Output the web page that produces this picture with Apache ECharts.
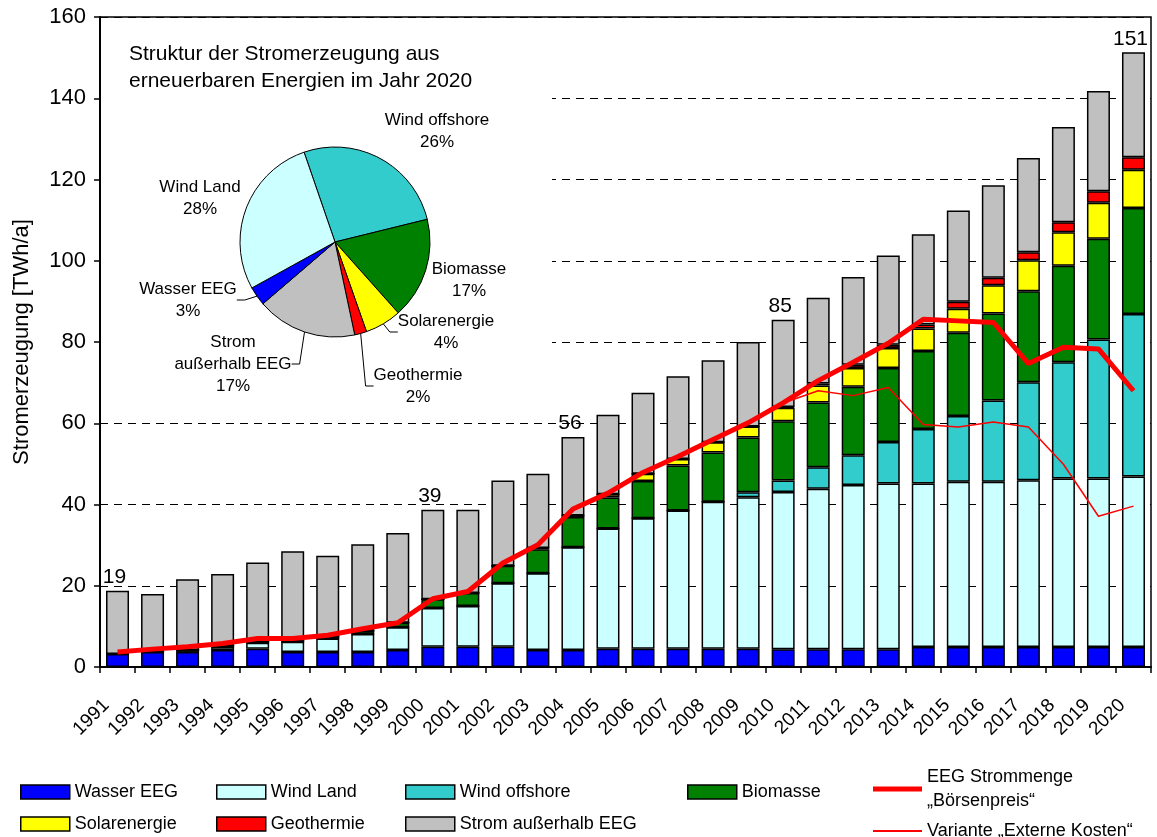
<!DOCTYPE html>
<html>
<head>
<meta charset="utf-8">
<title>Stromerzeugung aus erneuerbaren Energien</title>
<script src="https://cdn.jsdelivr.net/npm/echarts@6/dist/echarts.min.js"></script>
<style>
  html, body { margin: 0; padding: 0; background: #fff; }
  #chart { width: 1157px; height: 837px; }
</style>
</head>
<body>
<div id="chart"></div>
<script>
  // Jahre
  var years = ['1991', '1992', '1993', '1994', '1995', '1996', '1997', '1998', '1999', '2000',
    '2001', '2002', '2003', '2004', '2005', '2006', '2007', '2008', '2009', '2010',
    '2011', '2012', '2013', '2014', '2015', '2016', '2017', '2018', '2019', '2020']

  // Stromerzeugung in TWh/a
  var wasserEEG = [3.2, 3.7, 3.7, 4.2, 4.5, 3.7, 3.7, 3.7, 4.2, 5.0,
    5.0, 5.0, 4.2, 4.2, 4.5, 4.5, 4.5, 4.5, 4.5, 4.4,
    4.4, 4.4, 4.4, 4.9, 4.9, 4.9, 4.9, 4.9, 4.9, 4.9]
  var windLand = [0, 0.1, 0.5, 0.8, 1.5, 2.5, 3.3, 4.4, 5.6, 9.5,
    10.0, 15.6, 18.9, 25.3, 29.6, 32.1, 34.0, 36.2, 37.3, 38.7,
    39.5, 40.4, 40.8, 40.3, 40.7, 40.7, 41.1, 41.5, 41.5, 42.0]
  var windOffshore = [0, 0, 0, 0, 0, 0, 0, 0, 0, 0,
    0, 0, 0, 0, 0, 0, 0, 0, 1.2, 2.8,
    5.3, 7.3, 10.2, 13.4, 16.2, 20.0, 24.1, 28.6, 34.2, 40.0]
  var biomasse = [0, 0, 0, 0.3, 0.3, 0.3, 0.5, 0.8, 1.1, 2.2,
    3.2, 4.3, 5.9, 7.4, 7.6, 9.2, 11.1, 12.1, 13.5, 14.6,
    15.9, 16.9, 18.2, 19.2, 20.5, 21.4, 22.4, 23.8, 24.8, 26.1]
  var solar = [0, 0, 0, 0, 0, 0, 0, 0, 0, 0,
    0, 0, 0.3, 0.4, 0.8, 1.8, 1.6, 2.5, 2.7, 3.3,
    4.2, 4.6, 4.9, 5.5, 5.9, 7.0, 7.6, 8.2, 8.9, 9.4]
  var geothermie = [0, 0, 0, 0, 0, 0, 0, 0, 0, 0,
    0, 0, 0, 0, 0, 0, 0, 0, 0, 0.2,
    0.5, 0.8, 0.8, 1.0, 1.7, 1.8, 2.0, 2.5, 2.8, 3.1]
  var ausserhalbEEG = [15.6, 14.2, 17.4, 17.6, 19.4, 22.0, 19.9, 21.3, 22.1, 22.0,
    20.5, 21.0, 18.3, 19.3, 19.6, 19.9, 20.4, 20.2, 20.8, 21.5,
    21.1, 21.6, 22.0, 22.2, 22.5, 22.8, 23.2, 23.4, 24.7, 25.8]

  // Linien
  var eegBoersenpreis = [3.7, 4.4, 5.0, 5.8, 7.0, 7.0, 7.8, 9.4, 10.9, 16.8,
    18.6, 25.6, 30.1, 38.9, 42.8, 47.9, 51.8, 56.0, 60.1, 65.0,
    70.5, 75.0, 79.7, 85.6, 85.2, 84.8, 74.7, 78.7, 78.3, 68.0]
  var varianteExterne = ['-', '-', '-', '-', '-', '-', '-', '-', '-', '-',
    '-', '-', '-', '-', '-', '-', '-', '-', '-', 65.0,
    68.0, 66.8, 68.8, 59.7, 59.1, 60.3, 59.1, 49.9, 37.1, 39.6]

  // Summen-Beschriftung
  var labelYears = ['1991', '2000', '2004', '2010', '2020']
  var labelTexts = ['19', '39', '56', '85', '151']

  // Kuchen 2020
  var pieNames = ['Wind offshore', 'Biomasse', 'Solarenergie', 'Geothermie', 'Strom außerhalb EEG', 'Wasser EEG', 'Wind Land']
  var pieLabelNames = ['Wind offshore', 'Biomasse', 'Solarenergie', 'Geothermie', 'Strom\naußerhalb EEG', 'Wasser EEG', 'Wind Land']
  var pieShares = ['26%', '17%', '4%', '2%', '17%', '3%', '28%']

  var names = {
    wasser: 'Wasser EEG',
    land: 'Wind Land',
    offshore: 'Wind offshore',
    bio: 'Biomasse',
    solar: 'Solarenergie',
    geo: 'Geothermie',
    grau: 'Strom außerhalb EEG',
    eeg: 'EEG Strommenge „Börsenpreis“',
    variante: 'Variante „Externe Kosten“'
  }
  var colors = {
    wasser: '#0000ff',
    land: '#ccffff',
    offshore: '#33cccc',
    bio: '#008000',
    solar: '#ffff00',
    geo: '#ff0000',
    grau: '#c0c0c0'
  }

  var font = '"Liberation Sans", Arial, sans-serif'
  var last = years.length - 1

  function barSeries(key, data) {
    return {
      name: names[key],
      type: 'bar',
      stack: 'summe',
      barWidth: 23,
      data: data,
      itemStyle: {
        color: colors[key],
        borderColor: '#000',
        borderWidth: 1.5
      },
      emphasis: { disabled: true }
    }
  }

  var series = [
    barSeries('wasser', wasserEEG),
    barSeries('land', windLand),
    barSeries('offshore', windOffshore),
    barSeries('bio', biomasse),
    barSeries('solar', solar),
    barSeries('geo', geothermie),
    barSeries('grau', ausserhalbEEG)
  ]
  // Summen oben auf dem grauen Balken
  series[6].label = {
    show: true,
    position: 'top',
    distance: 3,
    offset: [-3, 0],
    fontFamily: font,
    fontSize: 21,
    color: '#000',
    formatter: function (p) {
      var i = labelYears.indexOf(p.name)
      return i >= 0 ? labelTexts[i] : ''
    }
  }

  series.push({
    name: names.eeg,
    type: 'line',
    data: eegBoersenpreis,
    symbol: 'none',
    z: 5,
    lineStyle: { color: '#ff0000', width: 5 },
    itemStyle: { color: '#ff0000' }
  })
  series.push({
    name: names.variante,
    type: 'line',
    data: varianteExterne,
    symbol: 'none',
    z: 5,
    lineStyle: { color: '#ff0000', width: 1.5 },
    itemStyle: { color: '#ff0000' }
  })

  // Kuchen aus den Werten 2020
  var pieSource = [windOffshore, biomasse, solar, geothermie, ausserhalbEEG, wasserEEG, windLand]
  var pieColorKeys = ['offshore', 'bio', 'solar', 'geo', 'grau', 'wasser', 'land']
  var pieLabelSpots = [[437, 131], [469, 280], [446, 332], [418, 386], [233, 364], [188, 300], [200, 198]]
  var pieWithLine = [false, false, true, true, true, true, false]

  var pieData = []
  for (var i = 0; i < pieNames.length; i++) {
    pieData.push({
      name: pieNames[i],
      value: pieSource[i][last],
      itemStyle: { color: colors[pieColorKeys[i]] },
      labelLine: { show: pieWithLine[i] }
    })
  }

  series.push({
    type: 'pie',
    center: [335, 242],
    radius: 95,
    startAngle: 109,
    clockwise: true,
    avoidLabelOverlap: false,
    z: 6,
    silent: true,
    itemStyle: { borderColor: '#000', borderWidth: 1 },
    label: {
      show: true,
      position: 'outside',
      fontFamily: font,
      fontSize: 17,
      lineHeight: 22,
      color: '#000',
      align: 'center',
      formatter: function (p) {
        return pieLabelNames[p.dataIndex] + '\n' + pieShares[p.dataIndex]
      }
    },
    labelLine: { lineStyle: { color: '#000', width: 1 }, length: 8, length2: 8 },
    labelLayout: function (p) {
      var s = pieLabelSpots[p.dataIndex]
      return { x: s[0], y: s[1], align: 'center', verticalAlign: 'middle' }
    },
    data: pieData
  })

  // Legende: jeder Eintrag einzeln platziert
  // [schluessel, links, oben, symbolhoehe, rahmen]
  var legendSpots = [
    ['wasser', 20, 780, 14, 1.5], ['land', 216, 780, 14, 1.5], ['offshore', 405, 780, 14, 1.5], ['bio', 687, 780, 14, 1.5],
    ['solar', 20, 812, 14, 1.5], ['geo', 216, 812, 14, 1.5], ['grau', 405, 812, 14, 1.5],
    ['eeg', 873, 765, 5, 0], ['variante', 873, 819, 2, 0]
  ]
  var legends = legendSpots.map(function (s) {
    return {
      data: [names[s[0]]],
      left: s[1],
      top: s[2],
      padding: 0,
      icon: 'rect',
      itemWidth: 49,
      itemHeight: s[3],
      itemGap: 0,
      selectedMode: false,
      itemStyle: { borderColor: '#000', borderWidth: s[4] },
      textStyle: { fontFamily: font, fontSize: 18, color: '#000', lineHeight: 24 },
      formatter: function (name) {
        if (name === names.eeg) return 'EEG Strommenge\n„Börsenpreis“'
        return name
      }
    }
  })

  var chart = echarts.init(document.getElementById('chart'))
  var option = {
    backgroundColor: '#fff',
    animation: false,
    textStyle: { fontFamily: font },
    title: {
      text: 'Struktur der Stromerzeugung aus\nerneuerbaren Energien im Jahr 2020',
      left: 129,
      top: 41,
      padding: 0,
      textStyle: { fontFamily: font, fontSize: 21, fontWeight: 'normal', color: '#000', lineHeight: 27 }
    },
    legend: legends,
    grid: {
      left: 100,
      right: 6,
      top: 17,
      bottom: 170,
      show: true,
      borderColor: '#000',
      borderWidth: 1.5
    },
    xAxis: {
      type: 'category',
      data: years,
      axisLine: { lineStyle: { color: '#000', width: 2 } },
      axisTick: { show: true, length: 6, lineStyle: { color: '#000', width: 1.5 } },
      axisLabel: {
        interval: 0,
        rotate: 45,
        margin: 24,
        color: '#000',
        fontFamily: font,
        fontSize: 19,
        formatter: function (v) { return '{y|' + v + '}' },
        rich: { y: { fontFamily: font, fontSize: 19, color: '#000', padding: [0, 16, 0, 0] } }
      }
    },
    yAxis: {
      type: 'value',
      min: 0,
      max: 160,
      interval: 20,
      name: 'Stromerzeugung [TWh/a]',
      nameLocation: 'middle',
      nameGap: 67,
      nameTextStyle: { fontFamily: font, fontSize: 22, color: '#000' },
      axisLine: { show: true, lineStyle: { color: '#000', width: 2 } },
      axisTick: { show: true, length: 6, lineStyle: { color: '#000', width: 1.5 } },
      axisLabel: { margin: 14, color: '#000', fontFamily: font, fontSize: 22 },
      splitLine: { show: true, lineStyle: { color: '#000', width: 1, type: [8, 6] } }
    },
    // weisser Kasten hinter dem Kuchen, verdeckt die Gitterlinien
    graphic: [{
      type: 'rect',
      z: 1,
      silent: true,
      shape: { x: 101, y: 19, width: 451, height: 392 },
      style: { fill: '#fff' }
    }],
    series: series
  }
  chart.setOption(option)
</script>
</body>
</html>
